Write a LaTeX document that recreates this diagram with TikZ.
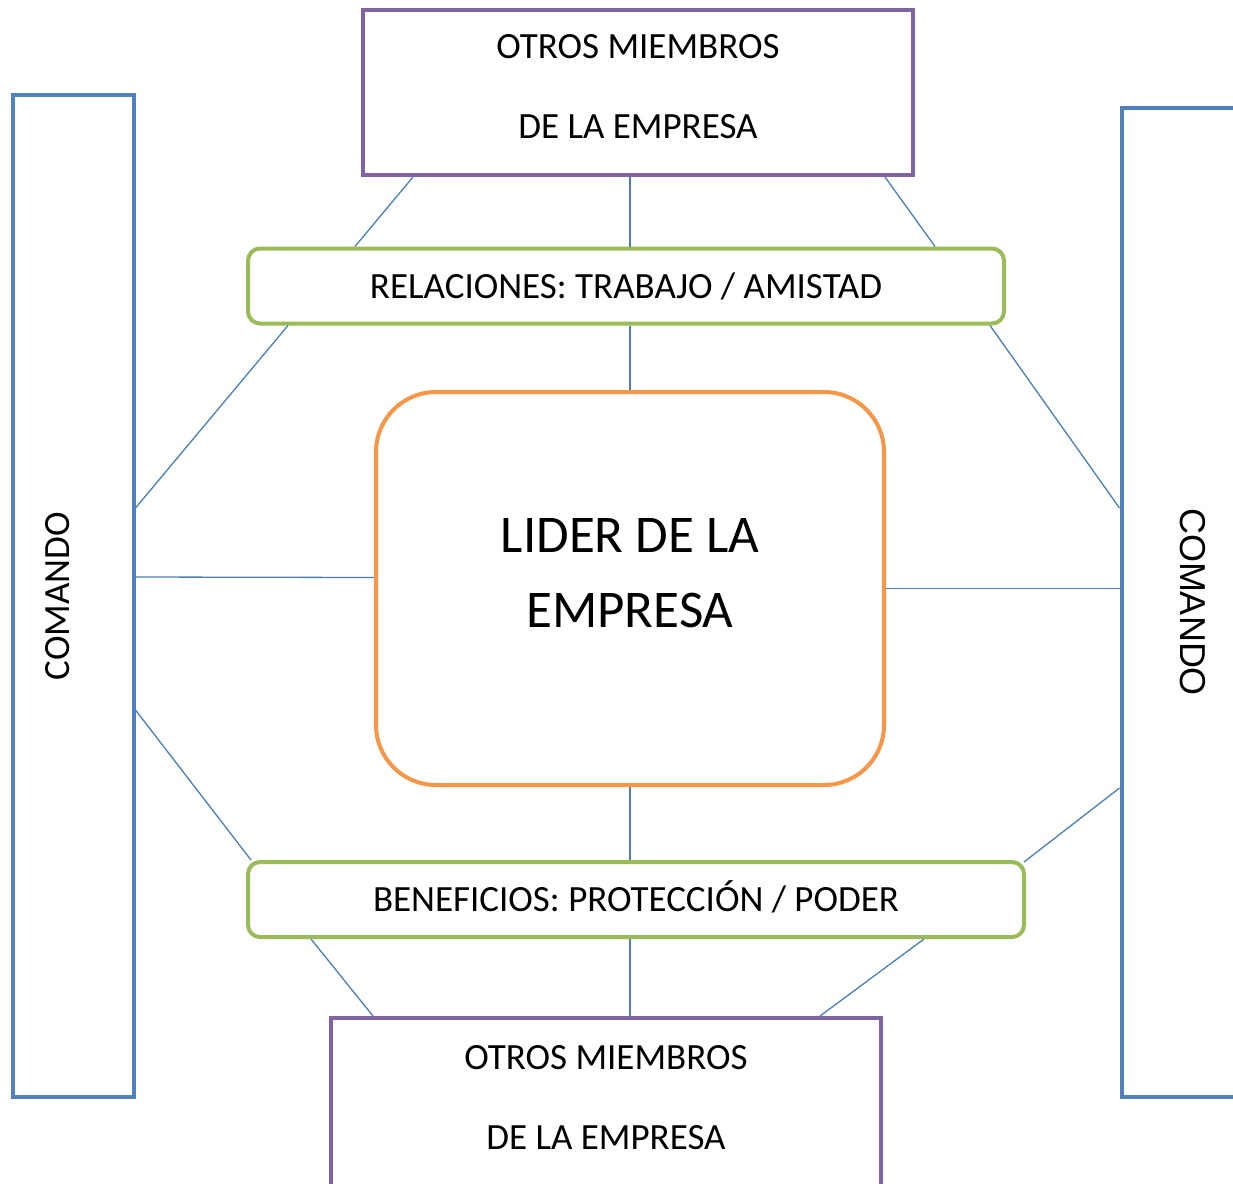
\documentclass[tikz,border=0pt]{standalone}
\usepackage{fontspec}
\setmainfont{Carlito}
\newfontfamily\arialfont{Liberation Sans}
\usetikzlibrary{calc}
\definecolor{colmiembro}{RGB}{128,100,162}
\definecolor{colrel}{RGB}{155,187,89}
\definecolor{colcom}{RGB}{79,129,189}
\definecolor{collider}{RGB}{247,150,70}
\definecolor{collink}{RGB}{74,126,187}
\tikzstyle{miembro}=[draw=colmiembro, line width=4pt, minimum width=550pt]
\tikzstyle{relacion}=[draw=colrel, line width=4pt, rounded corners=12pt, minimum height=75pt, text height=24pt, text depth=0pt]
\tikzstyle{comando}=[draw=colcom, line width=4pt, minimum width=121pt]
\tikzstyle{lider}=[draw=collider, line width=4pt, rounded corners=60pt, minimum width=508pt, minimum height=393pt]
\tikzstyle{txt}=[inner sep=0pt, align=center]
\tikzstyle{link}=[draw=collink, line width=1.3pt]

\begin{document}
\begin{tikzpicture}[x=1pt,y=-1pt,font=\fontsize{37}{44}\selectfont]
    \useasboundingbox (0,0) rectangle (1233,1183);
    \fill[white] (0,0) rectangle (1233,1183);
    \clip (0,0) rectangle (1233,1183);
    \node [miembro, minimum height=165pt] (a) at (638,92.5) {};
    \node [relacion, minimum width=756pt] (b) at (626,286) {RELACIONES: TRABAJO / AMISTAD};
    \node [lider] (c) at (630,588.5) {};
    \node [relacion, minimum width=776pt] (d) at (636,899.5) {BENEFICIOS: PROTECCIÓN / PODER};
    \node [miembro, minimum height=172pt] (e) at (606,1104) {};
    \node [comando, minimum height=1002pt] (f) at (73,596) {};
    \node [comando, minimum height=989pt] (g) at (1182,602.5) {};
    % textos
    \node [txt, anchor=north, font=\fontsize{37}{80}\selectfont] (at) at (638,34) {OTROS MIEMBROS\\DE LA EMPRESA};
    \node [txt, anchor=north, font=\fontsize{37}{80}\selectfont] (et) at (606,1045) {OTROS MIEMBROS\\DE LA EMPRESA};
    \node [txt, anchor=north, font=\fontsize{53}{75}\selectfont] (ct) at (630,518) {LIDER DE LA\\EMPRESA};
    \node [txt, rotate=90] (ft) at (58,596) {COMANDO};
    \node [txt, rotate=-90, font=\arialfont\fontsize{36}{44}\selectfont] (gt) at (1193,602) {COMANDO};
    \path[link]
    ($(a.south west)+(52,0)$) edge ($(b.north west)+(109,0)$)
    (a.south -| c.north) edge (b.north -| c.north)
    ($(a.south east)+(-30,0)$) edge ($(b.north east)+(-71,0)$)
    ($(b.south west)+(42,0)$) edge ($(f.north east)+(0,415)$)
    (b.south -| c.north) edge (c.north)
    ($(b.south east)+(-16,0)$) edge ($(g.north west)+(0,402)$)
    ($(f.east)+(0,-19)$) edge ($(c.west)+(0,-11)$)
    (c.east) edge (c.east -| g.west)
    ($(f.north east)+(0,617)$) edge ($(d.north west)+(5,0)$)
    (c.south) edge (c.south |- d.north)
    ($(g.north west)+(0,682)$) edge ($(d.north east)+(-2,2)$)
    ($(d.south west)+(65,0)$) edge ($(e.north west)+(44,0)$)
    (d.south -| c.south) edge (e.north -| c.south)
    ($(d.south east)+(-102,0)$) edge ($(e.north east)+(-63,0)$);
\end{tikzpicture}
\end{document}
